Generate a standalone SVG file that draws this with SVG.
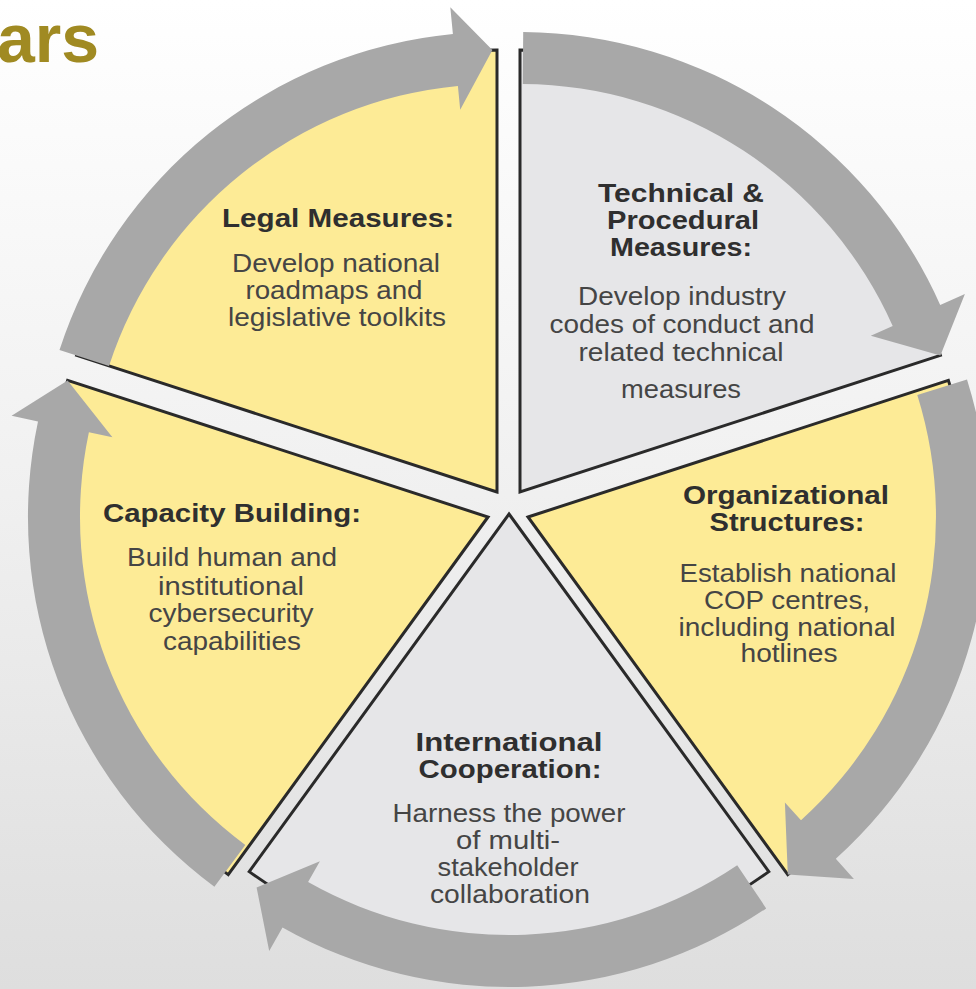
<svg xmlns="http://www.w3.org/2000/svg" width="976" height="989" viewBox="0 0 976 989">
<defs>
<linearGradient id="bg" x1="0" y1="0" x2="0" y2="1">
<stop offset="0" stop-color="#ffffff"/>
<stop offset="0.5" stop-color="#f0f0f0"/>
<stop offset="1" stop-color="#dedede"/>
</linearGradient>
<style>
.yel{fill:#fdeb96;stroke:#2a2a2a;stroke-width:3;stroke-linejoin:miter}
.gry{fill:#e6e6e8;stroke:#2a2a2a;stroke-width:3;stroke-linejoin:miter}
.arr{fill:#a8a8a8}
text{font-family:"Liberation Sans",Arial,sans-serif;text-anchor:middle}
.t{font-weight:bold;font-size:26px;fill:#2f2f2f}
.b{font-size:25px;fill:#454545}
.title{font-weight:bold;font-size:68px;fill:#a08a22;text-anchor:start}
</style>
</defs>
<rect x="0" y="0" width="976" height="989" fill="url(#bg)"/>
<text class="title" x="-3" y="62">ars</text>

<g id="legal">
<path class="yel" d="M497,492 L76.6,355.4 A442,442 0 0 1 497,50 Z"/>
<text class="t" x="338" y="227" textLength="232" lengthAdjust="spacingAndGlyphs">Legal Measures:</text>
<text class="b" x="336" y="272" textLength="208" lengthAdjust="spacingAndGlyphs">Develop national</text>
<text class="b" x="334" y="299" textLength="177" lengthAdjust="spacingAndGlyphs">roadmaps and</text>
<text class="b" x="337" y="326" textLength="218" lengthAdjust="spacingAndGlyphs">legislative toolkits</text>
</g>

<g id="technical">
<path class="gry" d="M520,492 L520,50 A442,442 0 0 1 940.4,355.4 Z"/>
<text class="t" x="681" y="202" textLength="166" lengthAdjust="spacingAndGlyphs">Technical &amp;</text>
<text class="t" x="683" y="229" textLength="152" lengthAdjust="spacingAndGlyphs">Procedural</text>
<text class="t" x="681" y="256" textLength="142" lengthAdjust="spacingAndGlyphs">Measures:</text>
<text class="b" x="682" y="305" textLength="208" lengthAdjust="spacingAndGlyphs">Develop industry</text>
<text class="b" x="682" y="333" textLength="265" lengthAdjust="spacingAndGlyphs">codes of conduct and</text>
<text class="b" x="681" y="361" textLength="205" lengthAdjust="spacingAndGlyphs">related technical</text>
<text class="b" x="681" y="398" textLength="120" lengthAdjust="spacingAndGlyphs">measures</text>
</g>

<g id="organizational">
<path class="yel" d="M528,517 L948.4,380.4 A442,442 0 0 1 787.8,874.6 Z"/>
<text class="t" x="786" y="504" textLength="206" lengthAdjust="spacingAndGlyphs">Organizational</text>
<text class="t" x="787" y="531" textLength="155" lengthAdjust="spacingAndGlyphs">Structures:</text>
<text class="b" x="788" y="582" textLength="217" lengthAdjust="spacingAndGlyphs">Establish national</text>
<text class="b" x="787" y="609" textLength="166" lengthAdjust="spacingAndGlyphs">COP centres,</text>
<text class="b" x="787" y="636" textLength="217" lengthAdjust="spacingAndGlyphs">including national</text>
<text class="b" x="789" y="662" textLength="97" lengthAdjust="spacingAndGlyphs">hotlines</text>
</g>

<g id="international">
<path class="gry" d="M509,514 L768.8,871.6 A442,442 0 0 1 249.2,871.6 Z"/>
<text class="t" x="509" y="751" textLength="187" lengthAdjust="spacingAndGlyphs">International</text>
<text class="t" x="510" y="778" textLength="183" lengthAdjust="spacingAndGlyphs">Cooperation:</text>
<text class="b" x="509" y="822" textLength="233" lengthAdjust="spacingAndGlyphs">Harness the power</text>
<text class="b" x="508" y="849" textLength="104" lengthAdjust="spacingAndGlyphs">of multi-</text>
<text class="b" x="508" y="876" textLength="141" lengthAdjust="spacingAndGlyphs">stakeholder</text>
<text class="b" x="510" y="903" textLength="160" lengthAdjust="spacingAndGlyphs">collaboration</text>
</g>

<g id="capacity">
<path class="yel" d="M488,517 L228.2,874.6 A442,442 0 0 1 67.6,380.4 Z"/>
<text class="t" x="232" y="522" textLength="258" lengthAdjust="spacingAndGlyphs">Capacity Building:</text>
<text class="b" x="232" y="566" textLength="210" lengthAdjust="spacingAndGlyphs">Build human and</text>
<text class="b" x="231" y="595" textLength="146" lengthAdjust="spacingAndGlyphs">institutional</text>
<text class="b" x="231" y="622" textLength="165" lengthAdjust="spacingAndGlyphs">cybersecurity</text>
<text class="b" x="232" y="650" textLength="138" lengthAdjust="spacingAndGlyphs">capabilities</text>
</g>

<g id="connectors">
<path class="arr" d="M59.5,349.9 A460,460 0 0 1 452.9,34.1 L450.3,7.2 L492.4,50 L460.2,109.8 L457.9,85.9 A408,408 0 0 0 109,365.9 Z"/>
<path class="arr" d="M523.2,32 A460,460 0 0 1 940.2,304.9 L964.9,293.9 L940.4,355.4 L870.8,335.8 L892.7,326.1 A408,408 0 0 0 522.8,84 Z"/>
<path class="arr" d="M967,379.4 A460,460 0 0 1 835.8,858.8 L853.9,878.9 L787.8,874.6 L784.9,802.4 L801,820.2 A408,408 0 0 0 917.3,395 Z"/>
<path class="arr" d="M766.2,908.4 A460,460 0 0 1 282.5,927.4 L269.2,950.9 L256.6,887.4 L319.9,861.2 L308.1,882.1 A408,408 0 0 0 737.2,865.2 Z"/>
<path class="arr" d="M214.4,886.8 A460,460 0 0 1 38,421.4 L11.6,415.7 L67.6,380.4 L112.4,437.2 L88.9,432.2 A408,408 0 0 0 245.3,845 Z"/>
</g>
</svg>
